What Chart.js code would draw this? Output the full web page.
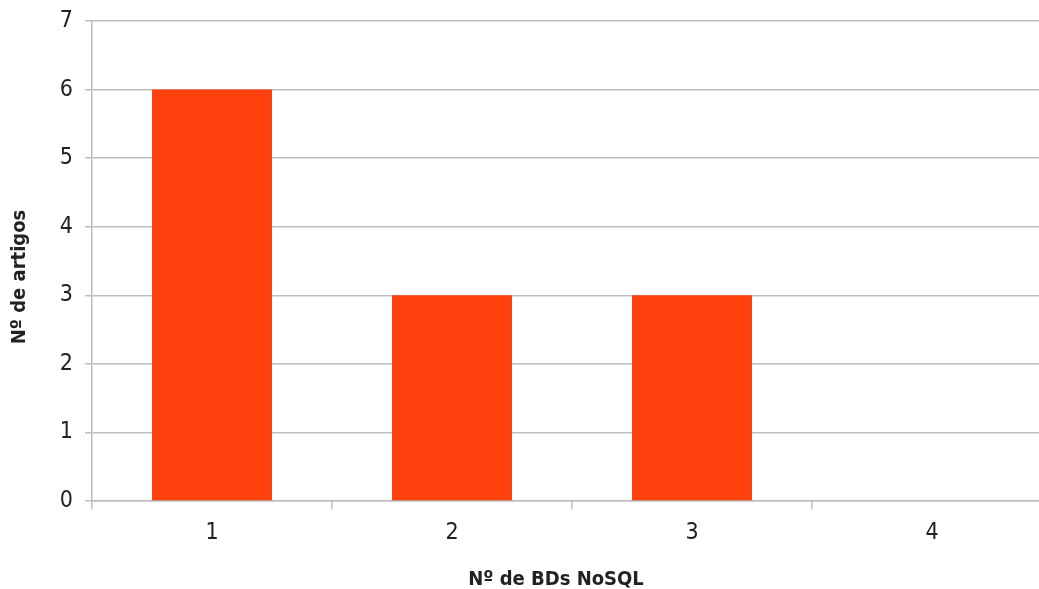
<!DOCTYPE html>
<html>
<head>
<meta charset="utf-8">
<script src="https://cdn.jsdelivr.net/npm/chart.js@4/dist/chart.umd.min.js"></script>
<style>
  html, body { margin: 0; padding: 0; background: #fff; overflow: hidden; }
  #wrap { width: 1060px; height: 589px; }
</style>
</head>
<body>
<div id="wrap"><canvas id="barChart"></canvas></div>
<script>
// Chart data
const categories = ['1', '2', '3', '4'];
const articleCounts = [6, 3, 3, 0];
const yMin = 0;
const yMax = 7;

const xTitle = 'Nº de BDs NoSQL';
const yTitle = 'Nº de artigos';

const gridColor = '#bdbdbd';
const textColor = '#222222';
const fontFamily = '"DejaVu Sans Condensed", "DejaVu Sans", sans-serif';

// Draw the axis titles where the original has them
const axisTitles = {
    id: 'axisTitles',
    afterDraw(chart) {
        const ctx = chart.ctx;
        ctx.save();
        ctx.fillStyle = textColor;
        ctx.font = 'bold 20px ' + fontFamily;
        ctx.textAlign = 'center';
        ctx.textBaseline = 'middle';
        ctx.fillText(xTitle, 556, 580);
        ctx.translate(20, 277);
        ctx.rotate(-Math.PI / 2);
        ctx.fillText(yTitle, 0, 0);
        ctx.restore();
    }
};

const ctx = document.getElementById('barChart').getContext('2d');
new Chart(ctx, {
    type: 'bar',
    data: {
        labels: categories,
        datasets: [{
            data: articleCounts,
            backgroundColor: '#ff420e',
            borderWidth: 0,
            barPercentage: 0.5,
            categoryPercentage: 1.0
        }]
    },
    options: {
        responsive: true,
        maintainAspectRatio: false,
        animation: false,
        layout: {
            padding: { top: 21, right: 8, left: 0, bottom: 0 }
        },
        plugins: {
            legend: { display: false },
            tooltip: { enabled: false }
        },
        scales: {
            x: {
                offset: true,
                grid: {
                    offset: true,
                    drawOnChartArea: false,
                    tickLength: 8,
                    lineWidth: 1.5,
                    color: gridColor
                },
                border: { color: gridColor, width: 1.5 },
                ticks: {
                    color: textColor,
                    padding: 10,
                    font: { family: fontFamily, size: 23 }
                },
                afterFit(scale) {
                    scale.height = 88;
                    scale.paddingLeft = 0;
                    scale.paddingRight = 0;
                }
            },
            y: {
                min: yMin,
                max: yMax,
                ticks: {
                    stepSize: 1,
                    color: textColor,
                    padding: 12,
                    font: { family: fontFamily, size: 23 }
                },
                grid: {
                    color: gridColor,
                    lineWidth: 1.5,
                    tickLength: 7
                },
                border: { color: gridColor, width: 1.5 },
                afterFit(scale) {
                    scale.width = 92;
                    scale.paddingTop = 0;
                    scale.paddingBottom = 0;
                }
            }
        }
    },
    plugins: [axisTitles]
});
</script>
</body>
</html>
